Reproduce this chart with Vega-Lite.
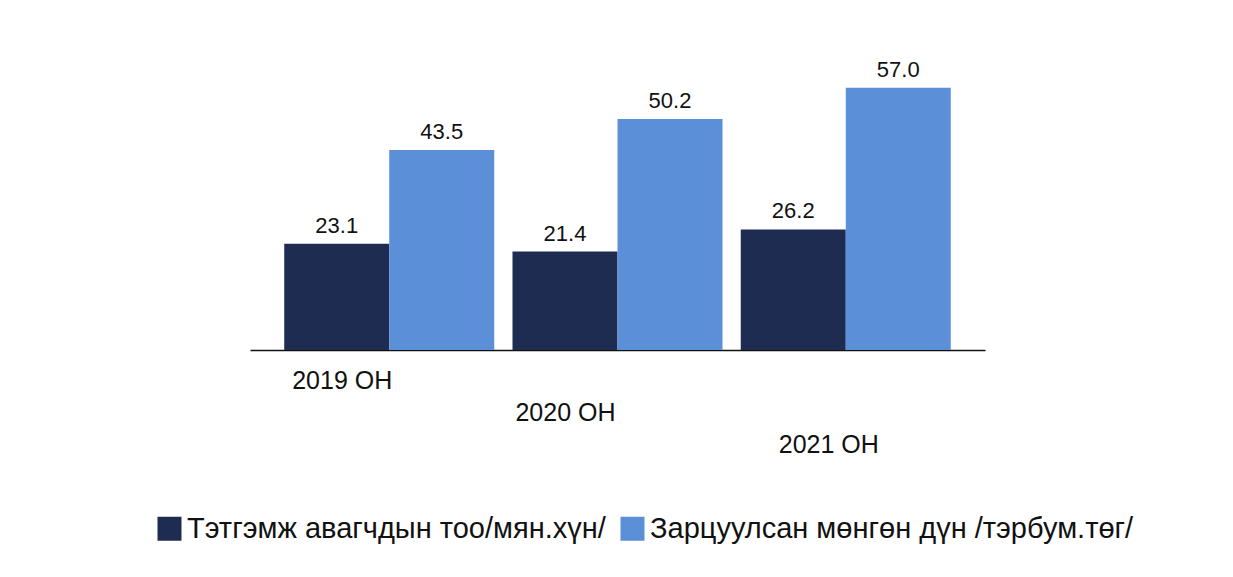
{
  "$schema": "https://vega.github.io/schema/vega-lite/v6.json",
  "width": 735,
  "height": 276,
  "autosize": "none",
  "padding": {"left": 250, "top": 74, "right": 248, "bottom": 227},
  "background": "white",
  "config": {"view": {"stroke": null}, "font": "Liberation Sans"},
  "data": {
    "values": [
      {"year": "2019 ОН", "series": "Тэтгэмж авагчдын тоо/мян.хүн/", "value": 23.1},
      {"year": "2019 ОН", "series": "Зарцуулсан мөнгөн дүн /тэрбум.төг/", "value": 43.5},
      {"year": "2020 ОН", "series": "Тэтгэмж авагчдын тоо/мян.хүн/", "value": 21.4},
      {"year": "2020 ОН", "series": "Зарцуулсан мөнгөн дүн /тэрбум.төг/", "value": 50.2},
      {"year": "2021 ОН", "series": "Тэтгэмж авагчдын тоо/мян.хүн/", "value": 26.2},
      {"year": "2021 ОН", "series": "Зарцуулсан мөнгөн дүн /тэрбум.төг/", "value": 57.0}
    ]
  },
  "encoding": {
    "x": {
      "field": "year",
      "type": "nominal",
      "sort": null,
      "scale": {"paddingInner": 0.08, "paddingOuter": 0.15},
      "axis": {
        "title": null,
        "labelAngle": 0,
        "ticks": false,
        "domainColor": "#111111",
        "domainWidth": 1.5,
        "labelFontSize": 25,
        "labelColor": "#111111",
        "labelOffset": {
          "condition": [
            {"test": "datum.value == '2020 ОН'", "value": -52},
            {"test": "datum.value == '2021 ОН'", "value": -17}
          ],
          "value": -47
        },
        "labelPadding": {
          "condition": [
            {"test": "datum.value == '2020 ОН'", "value": 50},
            {"test": "datum.value == '2021 ОН'", "value": 82}
          ],
          "value": 18
        }
      }
    },
    "xOffset": {
      "field": "series",
      "type": "nominal",
      "sort": ["Тэтгэмж авагчдын тоо/мян.хүн/", "Зарцуулсан мөнгөн дүн /тэрбум.төг/"]
    },
    "y": {
      "field": "value",
      "type": "quantitative",
      "scale": {"domain": [0, 60]},
      "axis": null
    }
  },
  "layer": [
    {
      "mark": {"type": "bar"},
      "encoding": {
        "color": {
          "field": "series",
          "type": "nominal",
          "sort": ["Тэтгэмж авагчдын тоо/мян.хүн/", "Зарцуулсан мөнгөн дүн /тэрбум.төг/"],
          "scale": {"range": ["#1e2c52", "#5b90d8"]},
          "legend": {
            "orient": "none",
            "legendX": -95,
            "legendY": 440,
            "direction": "horizontal",
            "title": null,
            "symbolType": "square",
            "symbolSize": 576,
            "symbolStrokeWidth": 0,
            "labelFontSize": 29,
            "labelColor": "#111111",
            "labelLimit": 600,
            "labelOffset": 3,
            "columnPadding": 12
          }
        }
      }
    },
    {
      "mark": {"type": "text", "dy": -18, "fontSize": 22, "color": "#111111"},
      "encoding": {
        "text": {"field": "value", "type": "quantitative", "format": ".1f"}
      }
    }
  ]
}
